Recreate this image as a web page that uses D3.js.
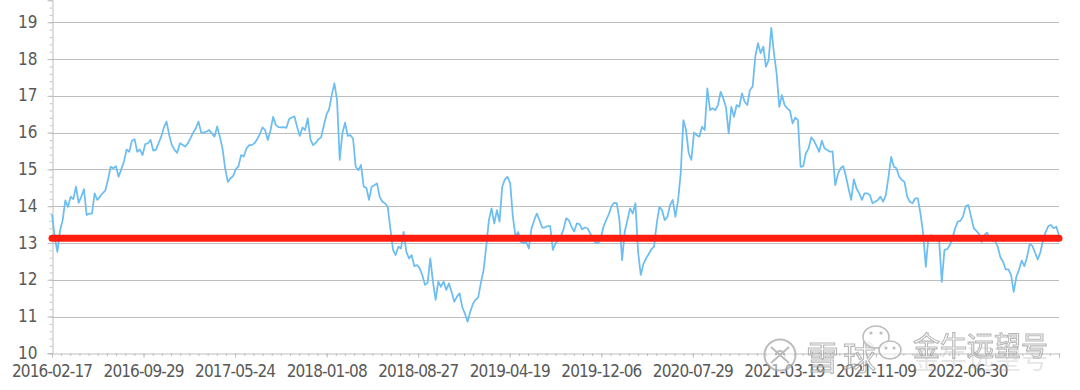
<!DOCTYPE html>
<html><head><meta charset="utf-8">
<script src="https://cdn.jsdelivr.net/npm/d3@7"></script>
<style>body{margin:0;background:#fff;} svg{display:block;}</style>
</head><body><svg id="c" width="1080" height="390"></svg>
<script>
// ---- data ----
const xLabels = ["2016-02-17","2016-09-29","2017-05-24","2018-01-08","2018-08-27","2019-04-19","2019-12-06","2020-07-29","2021-03-19","2021-11-09","2022-06-30"];
const tradingDays = 1651;      // category count on the x axis
const labelEvery = 150;        // label / major tick interval (categories)
const minorEvery = 15;         // minor tick interval (categories)
const yTicks = [10,11,12,13,14,15,16,17,18,19];
const yMax = 19.6;
const avgLevel = 13.13;

const peSeg1 = [13.78,13.17,12.76,13.33,13.62,14.16,13.98,14.26,14.19,14.53,
14.09,14.26,14.46,13.76,13.80,13.80,14.35,14.17,14.26,14.35,
14.42,14.71,15.07,15.03,15.09,14.80,15.00,15.21,15.54,15.48,
15.78,15.82,15.48,15.54,15.39,15.69,15.71,15.80,15.51,15.53,
15.71,15.89,16.14,16.30,15.93,15.66,15.53,15.45,15.71,15.67,
15.62,15.71,15.85,16.00,16.12,16.30,16.00,16.00,16.03,16.07,
15.98,15.89,16.17,15.89,15.57,15.03,14.66,14.76,14.82,15.00,
15.09,15.39,15.35,15.57,15.66];
const peSeg2 = [15.66,15.71,15.82,15.96,16.14,16.07,15.80,16.05,16.43,16.21,
16.15,16.14,16.15,16.13,16.37,16.41,16.44,16.16,15.91,16.14,
16.07,16.39,15.82,15.66,15.72,15.82,15.87,16.18,16.48,16.63,
17.02,17.34,16.89,15.26,15.98,16.27,15.91,15.93,15.84,15.07,
14.98,15.12,14.53,14.50,14.17,14.53,14.57,14.62,14.26,14.12,
14.08,13.99,13.40,12.81,12.67,12.90,12.85,13.30,12.76,12.58,
12.67,12.37,12.40,12.31,12.13,11.86,11.92,12.58,11.95,11.45,
11.95,11.81,11.95,11.72,11.90,11.67];
const peSeg3 = [11.40,11.54,11.63,11.26,11.08,10.86,11.13,11.34,11.46,11.52,
11.92,12.26,12.90,13.62,13.94,13.53,13.89,13.58,14.53,14.73,
14.80,14.62,13.71,13.17,13.30,13.03,12.99,13.03,12.85,13.40,
13.62,13.80,13.62,13.42,13.42,13.46,13.46,12.81,12.99,13.08,
13.17,13.37,13.67,13.62,13.44,13.31,13.53,13.51,13.37,13.42,
13.40,13.26,13.15,13.01,12.99,13.12,13.44,13.62,13.78,14.00,
14.09,14.08,13.62,12.53,13.31,13.62,13.94,13.80,14.08,12.76,
12.13,12.43,12.58,12.70,12.83,12.90];
const peSeg4 = [13.53,13.98,13.89,13.62,13.71,14.03,14.17,13.71,14.15,14.89,
16.34,16.07,15.44,15.26,16.00,15.93,15.89,16.16,16.07,17.20,
16.61,16.66,16.61,16.75,17.11,16.93,16.69,15.98,16.70,16.43,
16.75,16.70,17.07,16.84,16.75,17.16,17.25,18.07,18.43,18.16,
18.34,17.79,17.97,18.85,18.16,17.61,16.70,17.02,16.75,16.66,
16.60,16.25,16.41,16.34,15.07,15.09,15.44,15.57,15.87,15.78,
15.63,15.48,15.78,15.57,15.53,15.48,15.49,14.57,14.87,15.03,
15.09,14.82,14.48,14.17,14.73,14.48];
const peSeg5 = [14.35,14.17,14.35,14.35,14.30,14.08,14.12,14.17,14.26,14.12,
14.30,14.80,15.34,15.07,15.03,14.80,14.71,14.66,14.26,14.12,
14.08,14.21,14.21,13.80,13.26,12.35,13.17,13.21,13.17,13.10,
13.08,11.94,12.81,12.83,12.94,13.12,13.40,13.58,13.60,13.73,
14.00,14.03,13.71,13.40,13.33,13.24,13.03,13.21,13.28,13.12,
13.06,13.06,12.90,12.61,12.49,12.28,12.28,12.13,11.67,12.08,
12.28,12.52,12.37,12.61,12.97,12.92,12.74,12.55,12.74,13.08,
13.30,13.46,13.49,13.40,13.44,13.20];
const series = peSeg1.concat(peSeg2, peSeg3, peSeg4, peSeg5);

// ---- chart ----
const svg = d3.select('#c');
const left = 52, right = 1059, bottom = 353.3, unit = 36.78;
const x = d3.scaleLinear().domain([0, tradingDays - 1]).range([left, right]);
const y = d3.scaleLinear().domain([10, yMax]).range([bottom, bottom - (yMax - 10) * unit]);
const FONT = '"Liberation Sans Narrow","DejaVu Sans Condensed","Liberation Sans",sans-serif';

const defs = svg.append('defs');
defs.append('filter').attr('id','blur').attr('x','-5%').attr('y','-200%').attr('width','110%').attr('height','500%')
  .append('feGaussianBlur').attr('stdDeviation', 1.2);

// gridlines
svg.append('g').selectAll('line').data(yTicks.filter(v => v > 10)).join('line')
  .attr('x1', left).attr('x2', right)
  .attr('y1', d => Math.round(y(d)) + 0.5).attr('y2', d => Math.round(y(d)) + 0.5)
  .attr('stroke', '#bdbdbd').attr('stroke-width', 1);

// y axis minor ticks
const yMinor = d3.axisLeft(y).tickValues(d3.range(10, yMax + 0.001, 0.2)).tickSize(3).tickFormat('');
const gyMinor = svg.append('g').attr('transform', `translate(${left + 0.5},0)`).call(yMinor);
gyMinor.select('.domain').remove();
gyMinor.selectAll('line').attr('stroke', '#c8c8c8');
// y axis major
const yAxis = d3.axisLeft(y).tickValues(yTicks).tickSize(5).tickPadding(10).tickFormat(d3.format('d'));
const gy = svg.append('g').attr('transform', `translate(${left + 0.5},0)`).call(yAxis);
gy.select('.domain').attr('stroke', '#bdbdbd');
gy.selectAll('line').attr('stroke', '#bdbdbd');
gy.selectAll('text').attr('font-family', FONT).attr('font-size', 17).attr('fill', '#595959').attr('dy', '0.3em');

// x axis
const xMinor = d3.axisBottom(x).tickValues(d3.range(0, tradingDays, minorEvery)).tickSize(2.5).tickFormat('');
const gxMinor = svg.append('g').attr('transform', `translate(0,${Math.round(bottom) + 0.5})`).call(xMinor);
gxMinor.select('.domain').remove();
gxMinor.selectAll('line').attr('stroke', '#bdbdbd');
const xAxis = d3.axisBottom(x).tickValues(d3.range(0, tradingDays, labelEvery)).tickSize(4)
  .tickFormat((d, i) => xLabels[i]);
const gx = svg.append('g').attr('transform', `translate(0,${Math.round(bottom) + 0.5})`).call(xAxis);
gx.select('.domain').attr('stroke', '#bdbdbd');
gx.selectAll('line').attr('stroke', '#bdbdbd');
gx.selectAll('text').attr('font-family', FONT).attr('font-size', 17).attr('fill', '#595959')
  .attr('y', 23).attr('dy', 0).attr('textLength', 81).attr('lengthAdjust', 'spacing');

// series line
const step = (tradingDays - 1) / (series.length - 1);
const line = d3.line().x((d, i) => x(i * step)).y(d => y(d));
svg.append('path').datum(series).attr('d', line)
  .attr('fill', 'none').attr('stroke', '#6cbdf1').attr('stroke-width', 1.75).attr('stroke-linejoin', 'round');

// average line with shadow
const avg = [[0, avgLevel], [tradingDays - 1, avgLevel]];
const avgLine = d3.line().x(d => x(d[0])).y(d => y(d[1]));
svg.append('path').datum(avg).attr('d', avgLine).attr('transform', 'translate(0,2.5)')
  .attr('stroke', '#888').attr('stroke-opacity', 0.35).attr('stroke-width', 6.5).attr('stroke-linecap', 'round')
  .attr('fill', 'none').attr('filter', 'url(#blur)');
svg.append('path').datum(avg).attr('d', avgLine)
  .attr('stroke', '#ff1e10').attr('stroke-width', 7).attr('stroke-linecap', 'round').attr('fill', 'none');

// watermark
const wm = svg.append('g').attr('opacity', 0.75);
const wmFont = '"Noto Sans CJK SC",sans-serif';
// xueqiu logo
wm.append('circle').attr('cx', 780).attr('cy', 355).attr('r', 15.5).attr('fill', 'rgba(255,255,255,0.6)').attr('stroke', '#a8a8a8').attr('stroke-width', 2);
wm.append('path').attr('d', 'M771,347 L789,363 M789,347 L771,363 M776,355 a4,4 0 0 1 8,0')
  .attr('stroke', '#a8a8a8').attr('stroke-width', 2.2).attr('fill', 'none');
wm.append('text').attr('x', 806).attr('y', 370).attr('font-family', wmFont).attr('font-size', 33)
  .attr('letter-spacing', 4).attr('fill', 'rgba(255,255,255,0.5)').attr('stroke', '#a0a0a0').attr('stroke-width', 1.2).text('雪球');
// wechat logo
wm.append('ellipse').attr('cx', 876).attr('cy', 337).attr('rx', 13).attr('ry', 11).attr('fill', 'rgba(255,255,255,0.7)').attr('stroke', '#a8a8a8').attr('stroke-width', 1.6);
wm.append('ellipse').attr('cx', 890).attr('cy', 350).attr('rx', 11).attr('ry', 9).attr('fill', 'rgba(255,255,255,0.8)').attr('stroke', '#a8a8a8').attr('stroke-width', 1.6);
wm.selectAll('circle.eye').data([[871,333],[881,333],[886,348],[894,348]]).join('circle').attr('class','eye')
  .attr('cx', d => d[0]).attr('cy', d => d[1]).attr('r', 1.6).attr('fill', '#a8a8a8');
wm.append('text').attr('x', 913).attr('y', 369).attr('font-family', wmFont).attr('font-size', 27)
  .attr('fill', 'rgba(160,160,160,0.35)').text('金牛远望号');
wm.append('text').attr('x', 913).attr('y', 356).attr('font-family', wmFont).attr('font-size', 27)
  .attr('fill', 'rgba(255,255,255,0.6)').attr('stroke', '#a0a0a0').attr('stroke-width', 1.1).text('金牛远望号');
</script>
</body></html>
